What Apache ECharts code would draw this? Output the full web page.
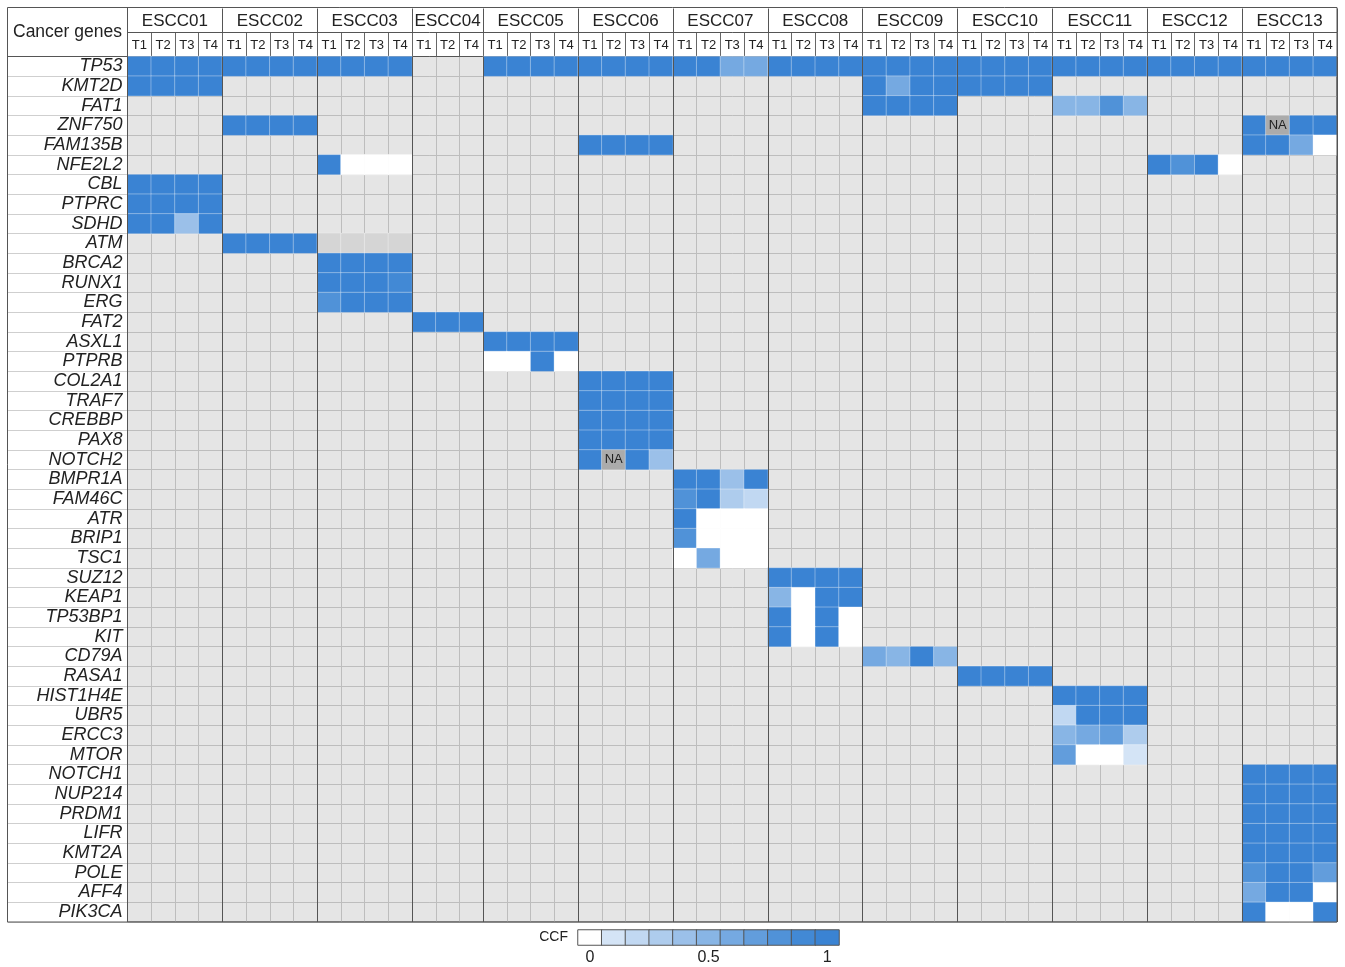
<!DOCTYPE html>
<html><head><meta charset="utf-8">
<script src="https://cdn.jsdelivr.net/npm/echarts@6/dist/echarts.min.js"></script>
<style>html,body{margin:0;padding:0;background:#fff}#chart{width:1345px;height:967px}</style>
</head><body><div id="chart"></div>
<script>
// ---------------- data ----------------
const patients = ['ESCC01','ESCC02','ESCC03','ESCC04','ESCC05','ESCC06','ESCC07','ESCC08','ESCC09','ESCC10','ESCC11','ESCC12','ESCC13'];
const tumors = [
  ['T1','T2','T3','T4'],['T1','T2','T3','T4'],['T1','T2','T3','T4'],['T1','T2','T4'],
  ['T1','T2','T3','T4'],['T1','T2','T3','T4'],['T1','T2','T3','T4'],['T1','T2','T3','T4'],
  ['T1','T2','T3','T4'],['T1','T2','T3','T4'],['T1','T2','T3','T4'],['T1','T2','T3','T4'],
  ['T1','T2','T3','T4']
];
const genes = ['TP53','KMT2D','FAT1','ZNF750','FAM135B','NFE2L2','CBL','PTPRC','SDHD','ATM','BRCA2','RUNX1','ERG','FAT2','ASXL1','PTPRB','COL2A1','TRAF7','CREBBP','PAX8','NOTCH2','BMPR1A','FAM46C','ATR','BRIP1','TSC1','SUZ12','KEAP1','TP53BP1','KIT','CD79A','RASA1','HIST1H4E','UBR5','ERCC3','MTOR','NOTCH1','NUP214','PRDM1','LIFR','KMT2A','POLE','AFF4','PIK3CA'];
// [gene, patient, CCF per tumor]; 'NA' = not available, 'ND' = shown darker grey
const mutations = [
  ['TP53','ESCC01',[1,1,1,1]],['TP53','ESCC02',[1,1,1,1]],['TP53','ESCC03',[1,1,1,1]],
  ['TP53','ESCC05',[1,1,1,1]],['TP53','ESCC06',[1,1,1,1]],['TP53','ESCC07',[1,1,0.6,0.6]],
  ['TP53','ESCC08',[1,1,1,1]],['TP53','ESCC09',[1,1,1,1]],['TP53','ESCC10',[1,1,1,1]],
  ['TP53','ESCC11',[1,1,1,1]],['TP53','ESCC12',[1,1,1,1]],['TP53','ESCC13',[1,1,1,1]],
  ['KMT2D','ESCC01',[1,1,1,1]],['KMT2D','ESCC09',[1,0.6,1,1]],['KMT2D','ESCC10',[1,1,1,1]],
  ['FAT1','ESCC09',[1,1,1,1]],['FAT1','ESCC11',[0.5,0.5,0.8,0.5]],
  ['ZNF750','ESCC02',[1,1,1,1]],['ZNF750','ESCC13',[1,'NA',1,1]],
  ['FAM135B','ESCC06',[1,1,1,1]],['FAM135B','ESCC13',[1,1,0.6,0]],
  ['NFE2L2','ESCC03',[1,0,0,0]],['NFE2L2','ESCC12',[1,0.8,1,0]],
  ['CBL','ESCC01',[1,1,1,1]],
  ['PTPRC','ESCC01',[1,1,1,1]],
  ['SDHD','ESCC01',[1,1,0.4,1]],
  ['ATM','ESCC02',[1,1,1,1]],['ATM','ESCC03',['ND','ND','ND','ND']],
  ['BRCA2','ESCC03',[1,1,1,1]],
  ['RUNX1','ESCC03',[1,1,1,0.9]],
  ['ERG','ESCC03',[0.8,1,1,1]],
  ['FAT2','ESCC04',[1,1,1]],
  ['ASXL1','ESCC05',[1,1,1,1]],
  ['PTPRB','ESCC05',[0,0,1,0]],
  ['COL2A1','ESCC06',[1,1,1,1]],
  ['TRAF7','ESCC06',[1,1,1,1]],
  ['CREBBP','ESCC06',[1,1,1,1]],
  ['PAX8','ESCC06',[1,1,1,1]],
  ['NOTCH2','ESCC06',[1,'NA',1,0.4]],
  ['BMPR1A','ESCC07',[1,1,0.4,1]],
  ['FAM46C','ESCC07',[0.8,1,0.3,0.2]],
  ['ATR','ESCC07',[1,0,0,0]],
  ['BRIP1','ESCC07',[0.8,0,0,0]],
  ['TSC1','ESCC07',[0,0.6,0,0]],
  ['SUZ12','ESCC08',[1,1,1,1]],
  ['KEAP1','ESCC08',[0.5,0,1,1]],
  ['TP53BP1','ESCC08',[1,0,1,0]],
  ['KIT','ESCC08',[1,0,1,0]],
  ['CD79A','ESCC09',[0.6,0.5,1,0.5]],
  ['RASA1','ESCC10',[1,1,1,1]],
  ['HIST1H4E','ESCC11',[1,1,1,1]],
  ['UBR5','ESCC11',[0.2,1,1,1]],
  ['ERCC3','ESCC11',[0.5,0.6,0.7,0.3]],
  ['MTOR','ESCC11',[0.7,0,0,0.1]],
  ['NOTCH1','ESCC13',[1,1,1,1]],
  ['NUP214','ESCC13',[1,1,1,1]],
  ['PRDM1','ESCC13',[1,1,1,1]],
  ['LIFR','ESCC13',[1,1,1,1]],
  ['KMT2A','ESCC13',[1,1,1,1]],
  ['POLE','ESCC13',[0.8,1,1,0.7]],
  ['AFF4','ESCC13',[0.6,1,1,0]],
  ['PIK3CA','ESCC13',[1,0,0,1]]
];
const legendValues = ['0','0.1','0.2','0.3','0.4','0.5','0.6','0.7','0.8','0.9','1'];

// ---------------- styling ----------------
const FONT = "'Liberation Sans', Arial, sans-serif";
const ccfColors = ['#ffffff','#d4e4f6','#c1d8f2','#aecced','#9bc0e9','#88b5e5','#75a9e1','#629ddc','#5092d8','#4289d5','#3a83d3'];
const GRID_L = 127.5, GRID_R = 8;
const CELL = (1345 - GRID_L - GRID_R) / 51;

// ---------------- build ----------------
const columns = [];
const groupStart = [];
patients.forEach((p, pi) => {
  groupStart.push(columns.length);
  tumors[pi].forEach(t => columns.push(p + '|' + t));
});
const starts = new Set(groupStart);
const labelAt = {};
patients.forEach((p, pi) => {
  const n = tumors[pi].length;
  labelAt[groupStart[pi] + Math.floor((n - 1) / 2)] = { name: p, even: n % 2 === 0 };
});
const cells = [];
mutations.forEach(([g, p, vals]) => {
  const pi = patients.indexOf(p), y = genes.indexOf(g);
  vals.forEach((v, k) => {
    const code = v === 'NA' ? -2 : (v === 'ND' ? -1 : v);
    cells.push([groupStart[pi] + k, y, code]);
  });
});
const pieces = [{ value: -2, color: '#ababab' }, { value: -1, color: '#d5d5d5' }];
ccfColors.forEach((c, k) => pieces.push({ gte: k / 10 - 0.05, lt: k / 10 + 0.05, color: c }));

const chart = echarts.init(document.getElementById('chart'));
chart.setOption({
  animation: false,
  textStyle: { fontFamily: FONT },
  title: { text: 'Cancer genes', left: 13, top: 23, padding: 0,
    textStyle: { fontSize: 17.5, fontWeight: 'normal', color: '#222', fontFamily: FONT } },
  grid: [
    { left: GRID_L, right: GRID_R, top: 56.5, bottom: 45, show: true, backgroundColor: '#e5e5e5', borderColor: '#555', borderWidth: 1 },
    { left: 578, top: 930, width: 261, height: 15 }
  ],
  visualMap: { type: 'piecewise', show: false, dimension: 2, seriesIndex: [0, 1], pieces: pieces },
  xAxis: [
    { type: 'category', gridIndex: 0, position: 'top', data: columns,
      axisLine: { show: true, lineStyle: { color: '#555' } },
      axisTick: { show: true, interval: 0, length: 24, lineStyle: { color: '#666' } },
      axisLabel: { interval: 0, margin: 5, fontSize: 13, color: '#222', formatter: v => v.split('|')[1] },
      splitLine: { show: true, interval: 0, lineStyle: { color: '#bdbdbd' } } },
    { type: 'category', gridIndex: 0, position: 'top', offset: 24, data: columns, z: 5,
      axisLine: { show: true, lineStyle: { color: '#555' } },
      axisTick: { show: true, length: 24, interval: i => starts.has(i), lineStyle: { color: '#555' } },
      axisLabel: { interval: i => (i in labelAt), margin: 3,
        formatter: (v, i) => { const L = labelAt[i]; if (!L) return ''; return (L.even ? '{p|' : '{q|') + L.name + '}'; },
        rich: { p: { padding: [0, 0, 0, CELL], fontSize: 17, color: '#222', fontFamily: FONT },
                q: { fontSize: 17, color: '#222', fontFamily: FONT } } },
      splitLine: { show: true, interval: i => starts.has(i), lineStyle: { color: '#555' } } },
    { type: 'category', gridIndex: 1, data: legendValues,
      axisLine: { show: false }, axisTick: { show: false }, splitLine: { show: false },
      axisLabel: { interval: i => i % 5 === 0, margin: 5, fontSize: 16, color: '#222' } }
  ],
  yAxis: [
    { type: 'category', gridIndex: 0, data: genes, inverse: true,
      axisLine: { show: false },
      axisTick: { show: true, interval: 0, length: 120, lineStyle: { color: '#cfcfcf' } },
      axisLabel: { interval: 0, margin: 5, fontSize: 18, fontStyle: 'italic', color: '#222' },
      splitLine: { show: true, interval: 0, lineStyle: { color: '#bdbdbd' } } },
    { type: 'category', gridIndex: 1, data: ['CCF'],
      axisLine: { show: false }, axisTick: { show: false },
      axisLabel: { margin: 10, fontSize: 14, color: '#222' } }
  ],
  series: [
    { type: 'heatmap', xAxisIndex: 0, yAxisIndex: 0, data: cells,
      itemStyle: { borderColor: 'rgba(255,255,255,0.35)', borderWidth: 1 },
      label: { show: true, fontSize: 13, color: '#222', formatter: p => p.value[2] === -2 ? 'NA' : '' },
      emphasis: { disabled: true } },
    { type: 'heatmap', xAxisIndex: 2, yAxisIndex: 1,
      data: legendValues.map((v, i) => [i, 0, +v]),
      itemStyle: { borderColor: '#555', borderWidth: 1 },
      emphasis: { disabled: true } }
  ],
  graphic: [
    { type: 'rect', z: 100, silent: true, shape: { x: 7.5, y: 7.5, width: 1337 - 7.5, height: 922 - 7.5 },
      style: { fill: 'none', stroke: '#555', lineWidth: 1 } },
    { type: 'line', z: 100, silent: true, shape: { x1: 7.5, y1: 56.5, x2: GRID_L, y2: 56.5 },
      style: { stroke: '#555', lineWidth: 1 } },
    { type: 'line', z: 100, silent: true, shape: { x1: GRID_L, y1: 7.5, x2: GRID_L, y2: 922 },
      style: { stroke: '#555', lineWidth: 1 } }
  ]
});
</script>
</body></html>
